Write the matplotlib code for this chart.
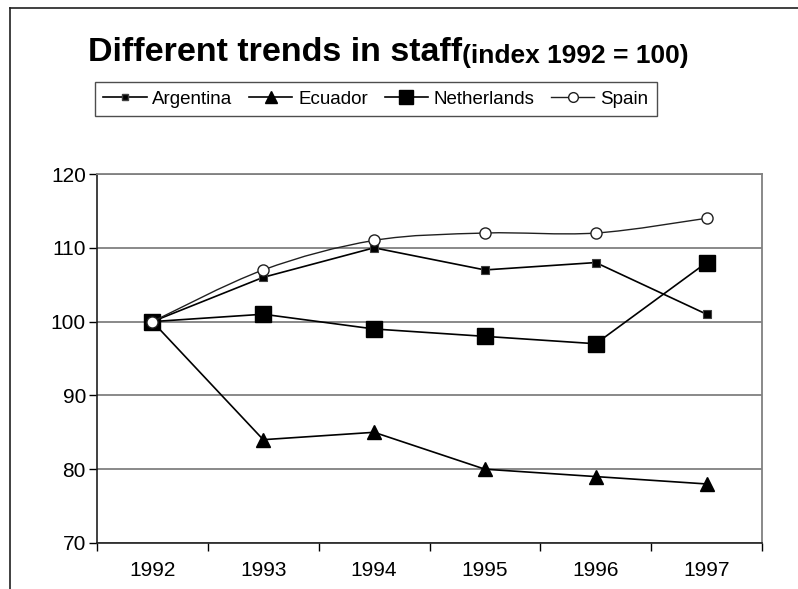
import matplotlib
matplotlib.use("Agg")
import matplotlib.pyplot as plt
from matplotlib.lines import Line2D
from matplotlib.path import Path
from matplotlib.patches import PathPatch
import numpy as np

years = ["1992", "1993", "1994", "1995", "1996", "1997"]
argentina = [100, 106, 110, 107, 108, 101]
ecuador = [100, 84, 85, 80, 79, 78]
netherlands = [100, 101, 99, 98, 97, 108]
spain = [100, 107, 111, 112, 112, 114]
y_ticks = [70, 80, 90, 100, 110, 120]

plt.rcParams["font.family"] = ["Liberation Sans", "DejaVu Sans"]

W, H = 798, 589
fig = plt.figure(figsize=(W / 100, H / 100), dpi=100)
ax = fig.add_axes([97 / W, 1 - 543 / H, (762 - 97) / W, (543 - 174) / H])

x = np.arange(len(years))

# straight series
ax.plot(x, argentina, color="black", lw=1.2, marker="s", ms=6,
        mfc="black", mec="#404040", mew=0.8, zorder=3, clip_on=False)
ax.plot(x, ecuador, color="black", lw=1.2, marker="^", ms=10,
        mfc="black", mec="black", zorder=3, clip_on=False)
ax.plot(x, netherlands, color="black", lw=1.2, marker="s", ms=11,
        mfc="black", mec="black", zorder=4, clip_on=False)


# smoothed series: cubic Bezier through the points (Catmull-Rom tangents)
def smooth_path(xs, ys):
    pts = np.column_stack([xs, ys]).astype(float)
    n = len(pts)
    verts = [pts[0]]
    codes = [Path.MOVETO]
    for i in range(n - 1):
        p0 = pts[i - 1] if i > 0 else pts[i]
        p1 = pts[i]
        p2 = pts[i + 1]
        p3 = pts[i + 2] if i + 2 < n else pts[i + 1]
        c1 = p1 + (p2 - p0) / 6.0
        c2 = p2 - (p3 - p1) / 6.0
        verts += [c1, c2, p2]
        codes += [Path.CURVE4] * 3
    return Path(verts, codes)


ax.add_patch(PathPatch(smooth_path(x, spain), facecolor="none",
                       edgecolor="#202020", lw=1.0, zorder=5))
ax.plot(x, spain, linestyle="none", marker="o", ms=8, mfc="white",
        mec="#202020", mew=1.0, zorder=6, clip_on=False)

ax.set_xlim(-0.5, len(years) - 0.5)
ax.set_ylim(70, 120)
ax.set_yticks(y_ticks)
ax.yaxis.grid(True, color="#808080", lw=1.3)
ax.set_axisbelow(True)

# tick marks on category boundaries, labels at category centres
ax.set_xticks(np.arange(-0.5, len(years), 1.0))
ax.set_xticklabels([])
ax.set_xticks(x, minor=True)
ax.set_xticklabels(years, minor=True, fontsize=15)
ax.tick_params(axis="x", which="major", direction="out", length=6, width=1)
ax.tick_params(axis="x", which="minor", length=0, pad=13)
ax.tick_params(axis="y", direction="out", length=6, width=1, labelsize=15, pad=2)

for side in ("left", "bottom"):
    ax.spines[side].set_color("#202020")
    ax.spines[side].set_linewidth(1.2)
for side in ("right", "top"):
    ax.spines[side].set_color("#808080")
    ax.spines[side].set_linewidth(1.3)

# legend
handles = [
    Line2D([], [], color="black", lw=1.2, marker="s", ms=5, mfc="black", mec="#404040"),
    Line2D([], [], color="black", lw=1.2, marker="^", ms=9, mfc="black", mec="black"),
    Line2D([], [], color="black", lw=1.2, marker="s", ms=10, mfc="black", mec="black"),
    Line2D([], [], color="#202020", lw=1.0, marker="o", ms=7, mfc="white", mec="#202020"),
]
labels = ["Argentina", "Ecuador", "Netherlands", "Spain"]
leg = fig.legend(handles, labels, loc="upper left", ncol=4,
                 bbox_to_anchor=(95 / W, 1 - 82 / H), fontsize=13.5,
                 frameon=True, fancybox=False, handlelength=2.3,
                 handletextpad=0.3, columnspacing=0.9, borderpad=0.45,
                 borderaxespad=0)
leg.get_frame().set_edgecolor("#202020")
leg.get_frame().set_linewidth(1.0)

# title
title = fig.text(88 / W, 1 - 61 / H, "Different trends in staff",
                 fontsize=24.5, fontweight="bold", ha="left", va="baseline")
fig.canvas.draw()
bb = title.get_window_extent()
fig.text(bb.x1 / W, 1 - 63 / H, "(index 1992 = 100)", fontsize=19,
         fontweight="bold", ha="left", va="baseline")

# outer frame
fig.add_artist(Line2D([10 / W, 10 / W], [0, 1 - 8 / H], transform=fig.transFigure,
                      color="#202020", lw=1.2))
fig.add_artist(Line2D([10 / W, 1], [1 - 8 / H, 1 - 8 / H], transform=fig.transFigure,
                      color="#202020", lw=1.2))

fig.savefig("out.png", dpi=100)
